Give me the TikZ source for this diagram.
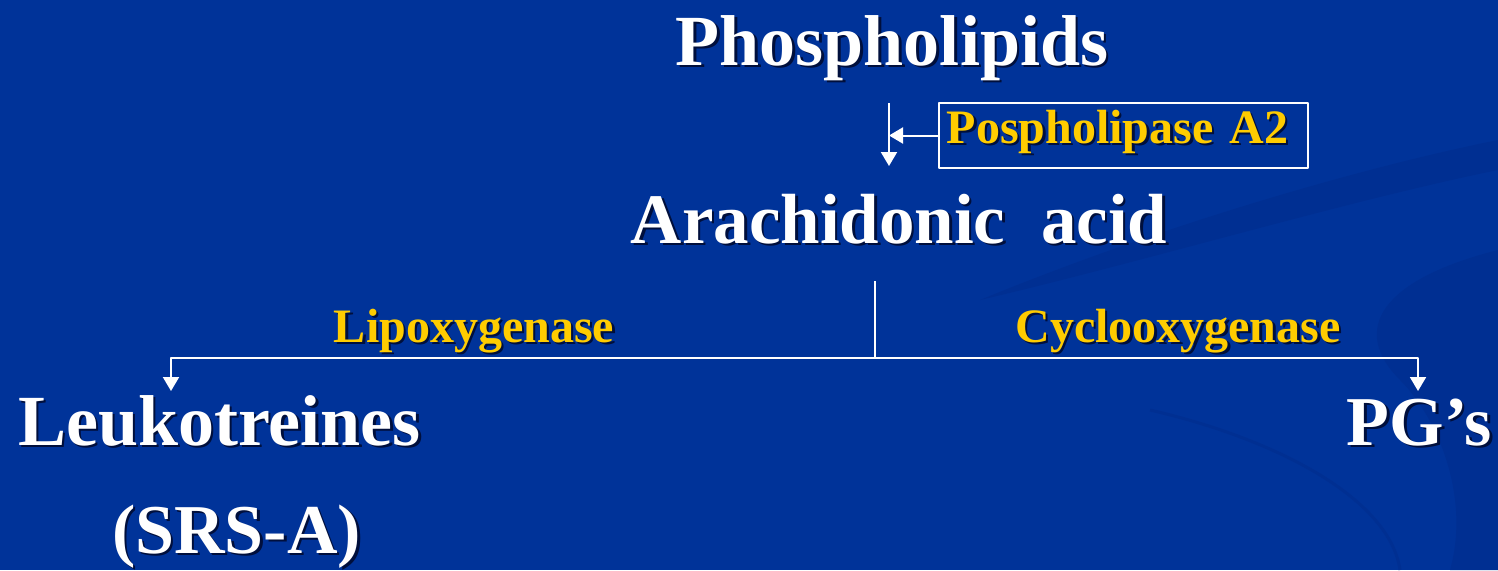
\documentclass[tikz,border=0pt]{standalone}
\usepackage{fontspec}
\setmainfont{Liberation Serif}
\usetikzlibrary{arrows.meta}

\definecolor{slideblue}{RGB}{0,51,153}
\definecolor{swoosh}{RGB}{0,47,146}
\definecolor{enzgold}{RGB}{255,204,0}
\definecolor{shadowc}{RGB}{0,15,60}

% texto con sombra (como en la diapositiva)
\newcommand{\shtext}[1]{\makebox[0pt][l]{\raisebox{-2.5pt}{\hspace{2.5pt}\textcolor{shadowc}{#1}}}#1}

\begin{document}
\begin{tikzpicture}[x=1pt, y=-1pt, line join=round,
    arr/.style={-{Triangle[width=16pt,length=14pt]}},
    every node/.style={inner sep=0pt},
    big/.style={text=white, font=\bfseries\fontsize{72}{80}\selectfont, anchor=base},
    enzyme/.style={text=enzgold, font=\bfseries\fontsize{48}{54}\selectfont, anchor=base}]

  %--- fondo ---
  \fill[slideblue] (0,0) rectangle (1498,570);
  \useasboundingbox (0,0) rectangle (1498,570);
  \fill[swoosh] (980,300) .. controls (1150,230) and (1350,170) .. (1498,140)
      -- (1498,170) .. controls (1350,200) and (1150,260) .. (980,300) -- cycle;
  \fill[swoosh] (1498,250) .. controls (1380,280) and (1350,330) .. (1400,380)
      .. controls (1440,420) and (1470,500) .. (1450,570) -- (1498,570) -- cycle;
  \draw[swoosh, line width=3pt] (1150,410) .. controls (1280,440) and (1390,500) .. (1400,570);

  %--- nodos ---
  \node[big] (phospho) at (892,65) {\shtext{Phospholipids}};
  \node[draw=white, line width=1.5pt, anchor=west, minimum height=65pt,
        text width=353pt, inner xsep=8pt, align=left, text=enzgold,
        text height=33pt, text depth=18pt,
        font=\bfseries\fontsize{48}{54}\selectfont] (pla) at (938,135.5)
        {\shtext{Pospholipase A2}};
  \node[big, font=\bfseries\fontsize{71}{80}\selectfont] (arach) at (899,243)
        {\shtext{Arachidonic\hspace{0.5em}acid}};
  \node[enzyme] (lipox) at (474,342) {\shtext{Lipoxygenase}};
  \node[enzyme] (cyclox) at (1178,342) {\shtext{Cyclooxygenase}};
  \node[big] (leuko) at (219.5,445) {\shtext{Leukotreines}};
  \node[big, font=\bfseries\fontsize{70}{80}\selectfont] (srsa) at (236.5,553) {\shtext{(SRS-A)}};
  \node[big, font=\bfseries\fontsize{70}{80}\selectfont] (pgs) at (1419.5,445) {\shtext{PG’s}};

  %--- puntos de las flechas ---
  \coordinate (top) at (889,103);
  \coordinate (bot) at (889,166);
  \coordinate (stem) at (875,281);
  \coordinate (fork) at (875,358);
  \coordinate (ltip) at (171,391);
  \coordinate (rtip) at (1418,391);

  %--- flechas ---
  \begin{scope}[draw=white, fill=white, line width=2pt]
    \draw[arr] (top) -- (bot);
    \draw[arr] (pla.west) -- (pla.west -| top);
    \draw (stem) -- (fork);
    \draw[arr] (fork) -| (ltip);
    \draw[arr] (fork) -| (rtip);
  \end{scope}

\end{tikzpicture}
\end{document}
